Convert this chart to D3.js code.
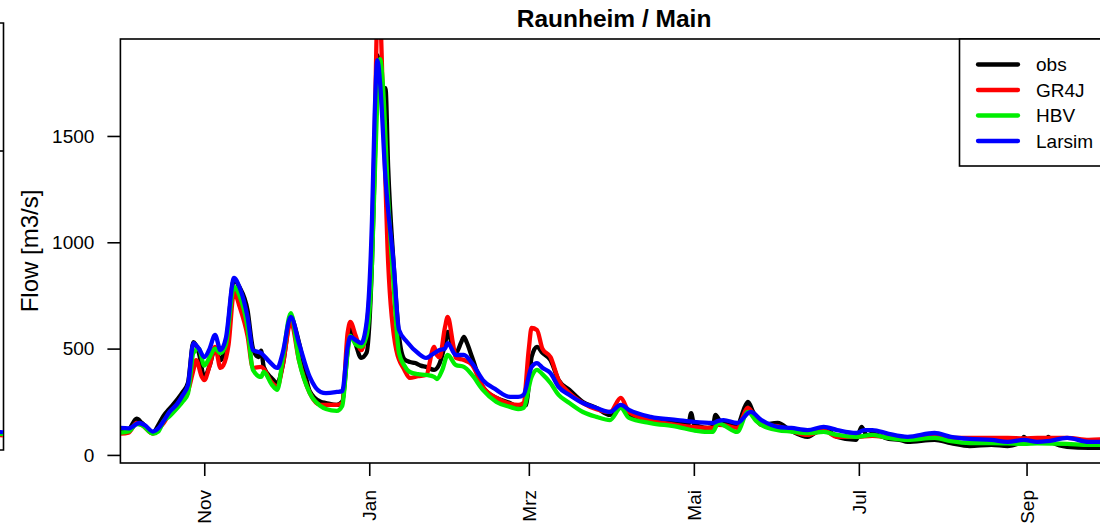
<!DOCTYPE html>
<html><head><meta charset="utf-8">
<script src="https://cdn.jsdelivr.net/npm/d3@7"></script>
<style>body{margin:0;background:#fff}svg{display:block;font-family:"Liberation Sans",Arial,sans-serif}</style>
</head><body><svg id="c" width="1100" height="528"></svg>
<script>
// day offsets from 1 Oct 2002 (hydrological year), flow in m3/s
const obs = [[0,115],[3,120],[6,170],[8,150],[12,103],[14,140],[16,185],[18,215],[21,260],[23,295],[25,340],[27,530],[29,480],[31,367],[33,420],[35,503],[37,446],[39,520],[42,822],[44,790],[47,681],[49,500],[51,460],[52,490],[53,414],[56,360],[58,338],[60,420],[63,644],[66,530],[70,300],[74,250],[76,244],[80,235],[82,250],[84,493],[85,602],[87,520],[89,456],[91,480],[93,900],[94,1350],[95,1880],[97,1700],[98,1725],[99,1350],[101,900],[103,560],[105,450],[107,437],[109,432],[111,420],[113,414],[116,400],[118,430],[120,520],[121,578],[123,500],[124,479],[126,530],[127,555],[128,530],[130,460],[134,320],[139,268],[144,244],[147,226],[150,235],[151,330],[152,460],[154,508],[156,480],[159,446],[162,352],[166,306],[171,249],[176,221],[181,188],[185,226],[188,188],[196,164],[206,150],[210,146],[211,197],[212,146],[217,127],[219,132],[220,188],[222,155],[228,141],[231,230],[232,249],[234,200],[237,141],[243,150],[248,113],[254,85],[260,127],[265,85],[272,71],[274,132],[276,90],[278,100],[284,75],[288,71],[291,61],[301,71],[307,56],[314,42],[322,47],[328,42],[333,60],[334,85],[336,60],[339,61],[342,60],[343,85],[345,55],[350,38],[358,33],[365,33]];
const gr4j = [[0,100],[3,105],[6,150],[8,140],[12,100],[14,120],[16,150],[18,190],[21,225],[23,260],[25,300],[27,400],[28,446],[30,370],[31,352],[33,420],[35,508],[37,409],[38,420],[40,520],[42,766],[44,700],[47,560],[49,409],[52,414],[56,340],[58,320],[60,420],[63,625],[66,446],[70,291],[74,235],[77,235],[80,235],[82,244],[84,573],[85,625],[87,560],[89,493],[91,600],[93,1000],[94,1500],[95,2050],[96,2050],[97,1700],[99,902],[102,493],[105,400],[107,362],[110,370],[113,376],[116,508],[117,470],[118,460],[120,600],[121,649],[123,520],[124,456],[127,446],[130,423],[134,320],[139,268],[144,240],[147,235],[149,244],[151,500],[152,597],[154,588],[156,500],[159,460],[162,352],[166,291],[171,244],[176,215],[181,202],[185,268],[188,202],[196,164],[206,140],[217,127],[219,127],[221,141],[223,140],[228,127],[232,221],[235,170],[237,141],[243,135],[248,113],[254,94],[260,115],[265,85],[272,85],[278,90],[284,82],[291,78],[301,94],[307,80],[314,80],[322,80],[328,80],[334,78],[339,80],[350,80],[358,71],[365,75]];
const hbv = [[0,105],[3,110],[6,145],[8,140],[12,100],[14,110],[16,160],[18,180],[21,220],[23,250],[25,290],[27,480],[29,500],[31,420],[33,460],[35,500],[37,479],[39,520],[42,790],[44,750],[47,600],[49,400],[52,367],[53,390],[56,330],[58,306],[60,450],[63,667],[66,446],[70,291],[74,230],[76,216],[80,207],[82,230],[84,480],[85,560],[87,520],[89,508],[91,560],[93,900],[94,1300],[96,1861],[97,1750],[99,1200],[101,800],[103,479],[105,420],[107,390],[110,380],[113,376],[116,367],[117,357],[119,400],[121,470],[124,423],[127,414],[130,376],[134,306],[139,249],[144,226],[147,216],[149,221],[152,367],[154,400],[156,380],[159,338],[162,282],[166,244],[171,202],[176,179],[181,164],[185,221],[188,174],[196,150],[206,132],[212,115],[217,108],[219,108],[221,150],[223,140],[228,108],[232,202],[235,160],[237,141],[243,117],[248,110],[254,103],[260,108],[265,94],[272,85],[278,94],[284,80],[291,71],[301,80],[307,65],[314,56],[322,56],[334,52],[339,55],[350,52],[358,47],[365,47]];
const larsim = [[0,127],[3,125],[7,150],[9,140],[12,110],[14,125],[16,160],[18,200],[21,240],[23,280],[25,330],[27,526],[29,500],[31,460],[33,500],[35,564],[37,493],[39,550],[42,832],[44,790],[47,649],[49,493],[52,479],[55,440],[58,409],[60,480],[63,649],[66,526],[70,367],[74,296],[76,291],[80,296],[82,300],[84,508],[85,555],[87,540],[89,526],[91,620],[93,1100],[94,1600],[95,1857],[96,1750],[98,1300],[101,902],[103,588],[106,531],[110,479],[113,456],[115,470],[118,493],[120,500],[121,526],[124,470],[127,470],[130,432],[134,352],[139,306],[144,273],[147,273],[149,282],[152,414],[154,432],[156,410],[159,385],[162,320],[166,282],[171,244],[176,221],[181,202],[185,235],[188,212],[196,179],[206,164],[212,155],[219,150],[221,160],[223,164],[228,150],[233,202],[237,164],[243,132],[248,127],[254,117],[260,132],[265,117],[272,103],[275,117],[278,117],[284,99],[291,85],[301,103],[307,85],[314,75],[322,71],[328,61],[334,71],[339,61],[343,65],[350,80],[358,61],[365,61]];
const seriesNames = ["obs","GR4J","HBV","Larsim"];
const monthTicks = ["2002-11-01","2003-01-01","2003-03-01","2003-05-01","2003-07-01","2003-09-01"];
const monthLabels = ["Nov","Jan","Mrz","Mai","Jul","Sep"];
const yTicks = [0,500,1000,1500];
// fragment of the neighbouring panel (cut off at the left edge)
const leftPanelVals = {obs:[62,60], gr4j:[50,48], hbv:[56,55], larsim:[66,64]};

const colors = ["#000000","#ff0000","#00ee00","#0000ff"];
const svg = d3.select("#c");
const L = 120.4, R = 1107.7, T = 39, B = 463;
const base = new Date(2002,9,1);
const dayToDate = d => d3.timeDay.offset(base, d);
const x = d3.scaleTime().domain([base, new Date(2003,9,1)]).range([L, R]);
const y = d3.scaleLinear().domain([-38, 1956]).range([B, T]);

svg.append("defs").append("clipPath").attr("id","clip")
  .append("rect").attr("x",L).attr("y",T).attr("width",R-L).attr("height",B-T);

const line = d3.line().x(d => x(dayToDate(d[0]))).y(d => y(d[1])).curve(d3.curveMonotoneX);
const g = svg.append("g").attr("clip-path","url(#clip)");
[obs,gr4j,hbv,larsim].forEach((s,i) => {
  g.append("path").datum(s).attr("d",line).attr("fill","none")
   .attr("stroke",colors[i]).attr("stroke-width",4.3)
   .attr("stroke-linejoin","round").attr("stroke-linecap","round");
});

// box
svg.append("rect").attr("x",L).attr("y",T).attr("width",R-L).attr("height",B-T)
  .attr("fill","none").attr("stroke","#000").attr("stroke-width",1.6);

// y axis
const ya = svg.append("g").attr("transform",`translate(${L},0)`)
  .call(d3.axisLeft(y).tickValues(yTicks).tickSize(13).tickPadding(13).tickFormat(d3.format("d")));
ya.select(".domain").remove();
ya.selectAll("line").attr("stroke-width",1.6);
ya.selectAll("text").attr("font-size",19).attr("fill","#000").attr("font-family","Liberation Sans, Arial, sans-serif");

// x axis
const xa = svg.append("g").attr("transform",`translate(0,${B})`)
  .call(d3.axisBottom(x).tickValues(monthTicks.map(s => d3.timeParse("%Y-%m-%d")(s)))
    .tickSize(13).tickFormat((d,i) => monthLabels[i]));
xa.select(".domain").remove();
xa.selectAll("line").attr("stroke-width",1.6);
xa.selectAll("text").attr("font-size",19).attr("fill","#000")
  .attr("font-family","Liberation Sans, Arial, sans-serif")
  .attr("transform","rotate(-90)").attr("text-anchor","end")
  .attr("x",-27).attr("y",0).attr("dy","0.35em");

// title
svg.append("text").attr("x",(L+R)/2).attr("y",26.5).attr("text-anchor","middle")
  .attr("font-size",24.5).attr("font-weight","bold").text("Raunheim / Main");
// y label
svg.append("text").attr("transform",`translate(30,${(T+B)/2}) rotate(-90)`)
  .attr("text-anchor","middle").attr("dy","0.35em").attr("font-size",24).text("Flow [m3/s]");

// legend
const lg = svg.append("g");
lg.append("rect").attr("x",959.5).attr("y",T).attr("width",R-959.5).attr("height",127)
  .attr("fill","#fff").attr("stroke","#000").attr("stroke-width",1.6);
seriesNames.forEach((n,i) => {
  const yy = 64.5 + i*25.5;
  lg.append("line").attr("x1",978).attr("x2",1018).attr("y1",yy).attr("y2",yy)
    .attr("stroke",colors[i]).attr("stroke-width",4.3).attr("stroke-linecap","round");
  lg.append("text").attr("x",1036).attr("y",yy).attr("dy","0.35em").attr("font-size",19).text(n);
});

// partial neighbouring panel on the left edge
const lp = svg.append("g");
lp.append("path").attr("d","M0,23H3.5V450H0").attr("fill","none").attr("stroke","#000").attr("stroke-width",1.6);
lp.append("line").attr("x1",0).attr("x2",3.5).attr("y1",151).attr("y2",151).attr("stroke","#000").attr("stroke-width",1.6);
const lx = d3.scaleLinear().domain([0,1]).range([-2,3]);
const ly = d3.scaleLinear().domain([0,100]).range([445,425]);
const lline = d3.line().x((d,i)=>lx(i)).y(d=>ly(d));
[leftPanelVals.obs,leftPanelVals.gr4j,leftPanelVals.hbv,leftPanelVals.larsim].forEach((s,i)=>{
  lp.append("path").datum(s).attr("d",lline).attr("fill","none").attr("stroke",colors[i]).attr("stroke-width",4);
});
</script></body></html>
